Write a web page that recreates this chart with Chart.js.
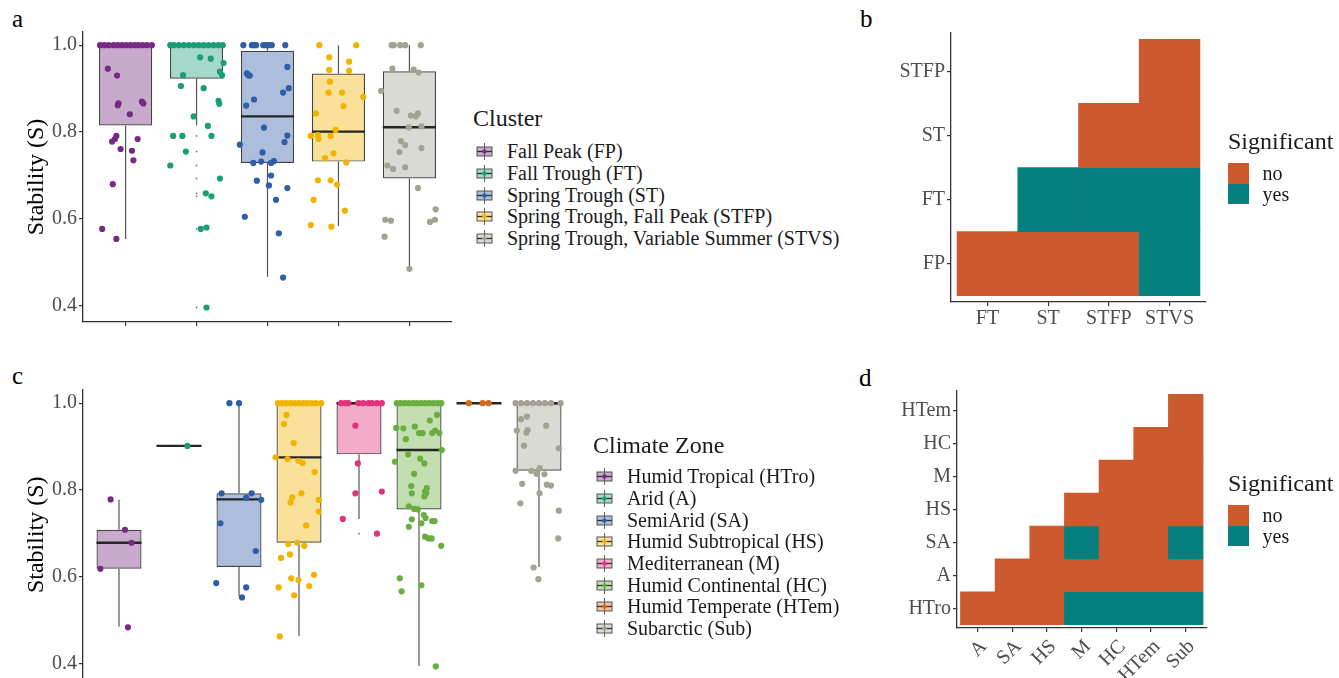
<!DOCTYPE html>
<html>
<head>
<meta charset="utf-8">
<script src="https://cdn.jsdelivr.net/npm/chart.js@4.4.1/dist/chart.umd.min.js"></script>
<style>
  body { margin: 0; width: 1339px; height: 678px; overflow: hidden; background: #fff; position: relative;
         font-family: "Liberation Serif", "DejaVu Serif", serif; }
  canvas { position: absolute; }
  .tag { position: absolute; font-size: 25px; line-height: 1; color: #000; }
  .leg { position: absolute; color: #1a1a1a; }
  .leg .ttl { font-size: 24px; line-height: 28px; white-space: nowrap; }
  .leg .row { display: flex; align-items: center; height: 21.67px; font-size: 20px; white-space: nowrap; }
  .leg svg { margin-right: 14px; flex: none; }
  .sig .row { height: 20.7px; }
  .sig .key { width: 20.6px; height: 20.7px; margin-right: 14px; }
</style>
</head>
<body>
<div class="tag" style="left:12px;top:6px">a</div>
<div class="tag" style="left:860px;top:6px">b</div>
<div class="tag" style="left:12px;top:363px">c</div>
<div class="tag" style="left:859px;top:365px">d</div>

<canvas id="chartA" width="470" height="340" style="left:0;top:0"></canvas>
<canvas id="chartB" width="380" height="340" style="left:850px;top:0"></canvas>
<canvas id="chartC" width="600" height="340" style="left:0;top:360px"></canvas>
<canvas id="chartD" width="380" height="318" style="left:850px;top:360px"></canvas>

<div class="leg" id="legA" style="left:473px;top:104px"></div>
<div class="leg" id="legC" style="left:593px;top:431px"></div>
<div class="leg sig" id="legB" style="left:1228px;top:127px"></div>
<div class="leg sig" id="legD" style="left:1228px;top:469px"></div>

<script>
// ---- panel a: clusters ----
const clusterCodes = ['FP', 'FT', 'ST', 'STFP', 'STVS'];
const clusterLabels = ['Fall Peak (FP)', 'Fall Trough (FT)', 'Spring Trough (ST)',
  'Spring Trough, Fall Peak (STFP)', 'Spring Trough, Variable Summer (STVS)'];
const clusterLow = [0.554, 0.815, 0.467, 0.583, 0.485];
const clusterQ1 = [0.815, 0.923, 0.729, 0.732, 0.693];
const clusterMed = [1.0, 1.0, 0.836, 0.801, 0.811];
const clusterQ3 = [1.0, 1.0, 0.987, 0.935, 0.940];
const clusterHigh = [1.0, 1.0, 1.0, 1.0, 1.0];

const fpVals = [1, 1, 1, 1, 1, 1, 1, 1, 1, 1, 1, 1, 1, 0.946, 0.93, 0.866, 0.862, 0.87, 0.866, 0.841, 0.791,
  0.784, 0.778, 0.784, 0.761, 0.757, 0.735, 0.68, 0.577, 0.554];
const fpJitter = [-0.36, -0.30, -0.24, -0.17, -0.11, -0.05, 0.01, 0.07, 0.13, 0.18, 0.24, 0.30, 0.37, -0.25, -0.12,
  -0.10, -0.11, 0.23, 0.25, 0.06, -0.13, -0.15, -0.19, 0.17, -0.07, 0.09, 0.11, -0.18, -0.33, -0.13];
const ftVals = [1, 1, 1, 1, 1, 1, 1, 1, 1, 1, 1, 1, 0.972, 0.969, 0.931, 0.959, 0.939, 0.931, 0.906, 0.901, 0.872,
  0.865, 0.836, 0.814, 0.791, 0.791, 0.791, 0.755, 0.723, 0.693, 0.659, 0.652, 0.577, 0.580, 0.396];
const ftJitter = [-0.37, -0.32, -0.25, -0.18, -0.11, -0.04, 0.03, 0.10, 0.17, 0.24, 0.31, 0.37, 0.05, 0.20, -0.19,
  0.38, 0.33, 0.36, -0.22, 0.10, 0.31, 0.32, -0.04, 0.16, -0.33, -0.20, 0.21, -0.15, -0.37, 0.33, 0.13, 0.21,
  0.06, 0.14, 0.14];
const ftOutliers = [0.791, 0.755, 0.723, 0.693, 0.659, 0.652, 0.577, 0.396];
const stVals = [1, 1, 1, 1, 1, 1, 1, 1, 1, 0.950, 0.935, 0.931, 0.930, 0.901, 0.891, 0.875, 0.861, 0.810, 0.792,
  0.777, 0.771, 0.753, 0.729, 0.732, 0.729, 0.733, 0.700, 0.688, 0.677, 0.671, 0.644, 0.605, 0.567, 0.465];
const stJitter = [-0.34, -0.22, -0.19, -0.16, -0.06, -0.02, 0.01, 0.06, 0.25, 0.28, -0.29, -0.27, -0.25, 0.30,
  0.22, -0.19, -0.30, -0.05, 0.28, 0.24, -0.39, -0.07, -0.20, -0.09, 0.05, 0.09, 0.05, -0.15, 0.02, 0.28, 0.12,
  -0.32, 0.16, 0.22];
const stfpVals = [1, 1, 0.972, 0.962, 0.943, 0.941, 0.916, 0.891, 0.891, 0.881, 0.860, 0.843, 0.805, 0.791, 0.793,
  0.784, 0.791, 0.751, 0.740, 0.730, 0.689, 0.689, 0.679, 0.644, 0.619, 0.586, 0.582];
const stfpJitter = [-0.27, 0.25, -0.13, 0.15, -0.13, 0.15, -0.12, -0.14, 0.05, 0.35, 0.07, -0.32, -0.04, -0.39,
  -0.29, -0.28, -0.11, -0.07, -0.19, 0.11, -0.29, -0.11, -0.02, -0.35, 0.09, -0.39, -0.10];
const stvsVals = [1, 1, 1, 1, 1, 0.946, 0.944, 0.937, 0.895, 0.849, 0.838, 0.836, 0.843, 0.811, 0.813, 0.779, 0.770,
  0.754, 0.763, 0.723, 0.715, 0.719, 0.671, 0.598, 0.596, 0.559, 0.622, 0.598, 0.593, 0.485];
const stvsJitter = [-0.25, -0.22, -0.13, -0.06, 0.16, -0.24, 0.06, 0.13, -0.40, -0.18, 0.02, 0.09, 0.12, -0.01,
  0.17, -0.12, -0.06, -0.14, 0.17, -0.31, -0.23, -0.06, 0.12, -0.34, -0.26, -0.35, 0.37, 0.36, 0.29, 0.00];

// ---- panel c: climate zones ----
const zoneCodes = ['HTro', 'A', 'SA', 'HS', 'M', 'HC', 'HTem', 'Sub'];
const zoneLabels = ['Humid Tropical (HTro)', 'Arid (A)', 'SemiArid (SA)', 'Humid Subtropical (HS)',
  'Mediterranean (M)', 'Humid Continental (HC)', 'Humid Temperate (HTem)', 'Subarctic (Sub)'];
const zoneLow = [0.485, 0.9015, 0.555, 0.463, 0.733, 0.394, 1.0, 0.622];
const zoneQ1 = [0.618, 0.9015, 0.622, 0.678, 0.882, 0.755, 1.0, 0.844];
const zoneMed = [0.678, 0.9015, 0.778, 0.875, 1.0, 0.892, 1.0, 1.0];
const zoneQ3 = [0.708, 0.9015, 0.792, 1.0, 1.0, 1.0, 1.0, 1.0];
const zoneHigh = [0.777, 0.9015, 1.0, 1.0, 1.0, 1.0, 1.0, 1.0];

const htroVals = [0.778, 0.708, 0.618, 0.678, 0.483];
const htroJitter = [-0.14, 0.10, -0.31, 0.21, 0.15];
const aridVals = [0.9015];
const aridJitter = [0.14];
const saVals = [1, 1, 0.792, 0.792, 0.782, 0.777, 0.723, 0.659, 0.585, 0.575, 0.552];
const saJitter = [-0.16, 0.0, -0.29, 0.21, 0.12, 0.37, -0.31, 0.28, -0.38, 0.12, 0.05];
const hsVals = [1, 1, 1, 1, 1, 1, 1, 1, 1, 1, 1, 0.973, 0.952, 0.908, 0.875, 0.871, 0.867, 0.862, 0.841, 0.783,
  0.771, 0.792, 0.777, 0.750, 0.718, 0.675, 0.678, 0.671, 0.643, 0.651, 0.596, 0.592, 0.604, 0.575, 0.578, 0.557,
  0.462];
const hsJitter = [-0.35, -0.28, -0.21, -0.14, -0.07, 0, 0.07, 0.14, 0.21, 0.28, 0.37, -0.21, -0.25, -0.09, -0.39,
  -0.19, -0.01, 0.06, 0.26, -0.11, -0.14, 0.04, 0.33, 0.33, 0.12, -0.18, -0.03, 0.09, -0.30, -0.15, -0.13, -0.01,
  0.25, -0.34, 0.17, -0.08, -0.32];
const medVals = [1, 1, 1, 1, 1, 1, 1, 1, 1, 0.948, 0.861, 0.792, 0.796, 0.733, 0.699];
const medJitter = [-0.30, -0.23, -0.18, -0.01, 0.07, 0.16, 0.22, 0.30, 0.38, -0.06, -0.02, -0.06, 0.38, -0.27, 0.30];
const medOutliers = [0.699];
const hcVals = [1, 1, 1, 1, 1, 1, 1, 1, 1, 1, 1, 1, 0.973, 0.960, 0.943, 0.942, 0.946, 0.931, 0.931, 0.937, 0.931,
  0.931, 0.917, 0.882, 0.865, 0.872, 0.861, 0.892, 0.837, 0.809, 0.792, 0.796, 0.792, 0.785, 0.804, 0.762, 0.756,
  0.755, 0.742, 0.735, 0.732, 0.723, 0.728, 0.728, 0.715, 0.692, 0.688, 0.688, 0.671, 0.596, 0.566, 0.580, 0.393];
const hcJitter = [-0.37, -0.31, -0.24, -0.17, -0.10, -0.04, 0.03, 0.10, 0.17, 0.24, 0.31, 0.37, 0.30, 0.18, -0.38,
  -0.26, -0.07, 0.00, 0.06, 0.27, 0.22, 0.34, -0.22, -0.18, -0.40, 0.02, 0.09, 0.38, -0.08, -0.13, -0.12, 0.10,
  0.12, 0.09, 0.13, -0.17, -0.08, -0.02, 0.08, 0.11, -0.12, 0.04, 0.22, 0.26, -0.17, 0.10, 0.16, 0.21, 0.37,
  -0.32, -0.29, 0.04, 0.28];
const htemVals = [1, 1, 1];
const htemJitter = [-0.17, 0.06, 0.16];
const subVals = [1, 1, 1, 1, 1, 1, 1, 1, 0.963, 0.969, 0.948, 0.937, 0.938, 0.932, 0.902, 0.896, 0.844, 0.844,
  0.850, 0.836, 0.837, 0.814, 0.812, 0.810, 0.792, 0.769, 0.752, 0.688, 0.621, 0.594];
const subJitter = [-0.39, -0.30, -0.20, -0.10, 0, 0.10, 0.20, 0.36, -0.30, -0.20, 0.12, -0.37, -0.19, -0.21, -0.25,
  0.33, -0.39, -0.13, 0.01, 0.09, -0.04, -0.28, 0.13, 0.20, 0.01, -0.31, 0.33, 0.32, -0.09, -0.01];

// ---- panels b and d: pairwise significance ----
const bCols = ['FT', 'ST', 'STFP', 'STVS'];
const bRows = ['FP', 'FT', 'ST', 'STFP'];
const bSig = [
  ['no', 'no', 'no', 'yes'],
  [null, 'yes', 'yes', 'yes'],
  [null, null, 'no', 'no'],
  [null, null, null, 'no']
];
const dCols = ['A', 'SA', 'HS', 'M', 'HC', 'HTem', 'Sub'];
const dRows = ['HTro', 'A', 'SA', 'HS', 'M', 'HC', 'HTem'];
const dSig = [
  ['no', 'no', 'no', 'yes', 'yes', 'yes', 'yes'],
  [null, 'no', 'no', 'no', 'no', 'no', 'no'],
  [null, null, 'no', 'yes', 'no', 'no', 'yes'],
  [null, null, null, 'no', 'no', 'no', 'no'],
  [null, null, null, null, 'no', 'no', 'no'],
  [null, null, null, null, null, 'no', 'no'],
  [null, null, null, null, null, null, 'no']
];
const sigLevels = ['no', 'yes'];

// styling
const clusterColors = ['#762a83', '#1b9e77', '#2f5da6', '#f1b300', '#a3a293'];
const zoneColors = ['#762a83', '#1b9e77', '#2f5da6', '#f1b300', '#e0337a', '#6aae3f', '#d4681c', '#a3a293'];
const sigColors = { no: '#cc5a2e', yes: '#05807f' };
const FONT = 'Liberation Serif';
const TICK_COLOR = '#4d4d4d';
const AXIS_COLOR = '#333';

function withAlpha(hex, a) {
  const n = parseInt(hex.slice(1), 16);
  return `rgba(${n >> 16},${(n >> 8) & 255},${n & 255},${a})`;
}

function axisStyle() {
  return {
    offset: false,
    grid: { offset: false, drawOnChartArea: false, drawTicks: true, tickLength: 4, color: AXIS_COLOR, lineWidth: 1.2 },
    border: { display: true, color: AXIS_COLOR, width: 1.3 }
  };
}

function boxPanel(id, cats, lo, q1, med, q3, hi, groups, outliers, colors, lay) {
  const n = cats.length;
  const whiskers = [], medians = [], tiny = [];
  cats.forEach((c, i) => {
    const x = i + 1;
    whiskers.push({ x, y: lo[i] }, { x, y: q1[i] }, { x, y: null }, { x, y: q3[i] }, { x, y: hi[i] }, { x, y: null });
    medians.push({ x: x - 0.375, y: med[i] }, { x: x + 0.375, y: med[i] }, { x, y: null });
  });
  outliers.forEach(o => o.vals.forEach(v => tiny.push({ x: o.i + 1, y: v })));

  const datasets = [
    {
      type: 'bar', order: 4,
      data: cats.map((c, i) => ({ x: i + 1, y: [q1[i], q3[i]] })),
      backgroundColor: colors.map(c => withAlpha(c, 0.4)),
      borderColor: '#444', borderWidth: 1.2, borderSkipped: false,
      barPercentage: 0.75, categoryPercentage: 1
    },
    { type: 'line', order: 3, data: whiskers, borderColor: '#555', borderWidth: 1.2, pointRadius: 0, spanGaps: false },
    { type: 'line', order: 2, data: medians, borderColor: '#262626', borderWidth: 2.4, pointRadius: 0, spanGaps: false },
    { type: 'scatter', order: 1, data: tiny, pointRadius: 0.9, backgroundColor: '#777', borderWidth: 0 }
  ];
  groups.forEach((g, i) => {
    datasets.push({
      type: 'scatter', order: 0,
      data: g[0].map((v, j) => ({ x: i + 1 + g[1][j], y: v })),
      pointRadius: 3.1, backgroundColor: colors[i], borderWidth: 0
    });
  });

  const xs = axisStyle();
  const ys = axisStyle();
  new Chart(document.getElementById(id), {
    type: 'bar',
    data: { datasets },
    options: {
      responsive: false, animation: false,
      layout: { padding: { top: lay.top, right: lay.right, left: 0, bottom: 0 } },
      plugins: { legend: { display: false }, tooltip: { enabled: false } },
      scales: {
        x: Object.assign(xs, {
          type: 'linear', min: 0.4, max: n + 0.6,
          ticks: { autoSkip: false, padding: 0, callback: () => '' },
          afterBuildTicks: s => { s.ticks = cats.map((c, i) => ({ value: i + 1 })); },
          afterFit: s => { s.height = lay.xh; }
        }),
        y: Object.assign(ys, {
          type: 'linear', min: 0.3626, max: 1.0304,
          ticks: { padding: 2, color: TICK_COLOR, font: { family: FONT, size: 20 }, callback: v => v.toFixed(1) },
          afterBuildTicks: s => { s.ticks = [0.4, 0.6, 0.8, 1.0].map(v => ({ value: v })); },
          title: { display: true, text: 'Stability (S)', color: '#000', font: { family: FONT, size: 24 },
                   padding: { top: 22, bottom: 0 } },
          afterFit: s => { s.width = 83; }
        })
      }
    }
  });
}

function heatPanel(id, cols, rows, sig, lay) {
  const cells = [], fills = [];
  rows.forEach((r, ri) => cols.forEach((c, ci) => {
    const s = sig[ri][ci];
    if (!s) return;
    cells.push({ x: [ci - 0.5, ci + 0.5], y: ri });
    fills.push(sigColors[s]);
  }));
  const tickFont = { family: FONT, size: 20 };
  new Chart(document.getElementById(id), {
    type: 'bar',
    data: { datasets: [{ data: cells, backgroundColor: fills, borderWidth: 0, barPercentage: 1, categoryPercentage: 1 }] },
    options: {
      indexAxis: 'y', responsive: false, animation: false,
      layout: { padding: { top: lay.top, right: lay.right, left: 0, bottom: 0 } },
      plugins: { legend: { display: false }, tooltip: { enabled: false } },
      scales: {
        x: Object.assign(axisStyle(), {
          type: 'linear', min: -0.6, max: cols.length - 0.4,
          ticks: { autoSkip: false, padding: lay.xpad, labelOffset: lay.shift, color: TICK_COLOR, font: tickFont,
                   minRotation: lay.rot, maxRotation: lay.rot, callback: v => cols[v] },
          afterBuildTicks: s => { s.ticks = cols.map((c, i) => ({ value: i })); },
          afterFit: s => { s.height = lay.xh; }
        }),
        y: Object.assign(axisStyle(), {
          type: 'linear', min: -0.6, max: rows.length - 0.4,
          ticks: { autoSkip: false, padding: 2, color: TICK_COLOR, font: tickFont, callback: v => rows[v] },
          afterBuildTicks: s => { s.ticks = rows.map((r, i) => ({ value: i })); },
          afterFit: s => { s.width = lay.yw; }
        })
      }
    }
  });
}

function boxKey(color) {
  return `<svg width="17" height="17" viewBox="0 0 17 17">
    <line x1="8.5" y1="0" x2="8.5" y2="17" stroke="#666" stroke-width="1"/>
    <rect x="1" y="4" width="15" height="9" fill="${withAlpha(color, 0.4)}" stroke="#555" stroke-width="1"/>
    <line x1="1" y1="8.5" x2="16" y2="8.5" stroke="#333" stroke-width="1.3"/>
    <circle cx="8.5" cy="8.5" r="2.2" fill="${color}"/></svg>`;
}

function boxLegend(id, title, labels, colors, gap) {
  let html = `<div class="ttl">${title}</div><div style="margin-top:${gap}px;padding-left:3px">`;
  labels.forEach((l, i) => { html += `<div class="row">${boxKey(colors[i])}<span>${l}</span></div>`; });
  document.getElementById(id).innerHTML = html + '</div>';
}

function sigLegend(id) {
  let html = '<div class="ttl">Significant</div><div style="margin-top:8px">';
  sigLevels.forEach(s => {
    html += `<div class="row"><div class="key" style="background:${sigColors[s]}"></div><span>${s}</span></div>`;
  });
  document.getElementById(id).innerHTML = html + '</div>';
}

boxPanel('chartA', clusterCodes, clusterLow, clusterQ1, clusterMed, clusterQ3, clusterHigh,
  [[fpVals, fpJitter], [ftVals, ftJitter], [stVals, stJitter], [stfpVals, stfpJitter], [stvsVals, stvsJitter]],
  [{ i: 1, vals: ftOutliers }], clusterColors, { top: 32, right: 18, xh: 18 });

boxPanel('chartC', zoneCodes, zoneLow, zoneQ1, zoneMed, zoneQ3, zoneHigh,
  [[htroVals, htroJitter], [aridVals, aridJitter], [saVals, saJitter], [hsVals, hsJitter], [medVals, medJitter],
   [hcVals, hcJitter], [htemVals, htemJitter], [subVals, subJitter]],
  [{ i: 4, vals: medOutliers }], zoneColors, { top: 30, right: 25, xh: 20.5 });

heatPanel('chartB', bCols, bRows, bSig, { top: 33, right: 24, xh: 38, yw: 101, rot: 0, xpad: 1, shift: 0 });
heatPanel('chartD', dCols, dRows, dSig, { top: 31, right: 23.5, xh: 50, yw: 107, rot: 45, xpad: 3, shift: 6 });

boxLegend('legA', 'Cluster', clusterLabels, clusterColors, 9);
boxLegend('legC', 'Climate Zone', zoneLabels, zoneColors, 7);
sigLegend('legB');
sigLegend('legD');
</script>
</body>
</html>
